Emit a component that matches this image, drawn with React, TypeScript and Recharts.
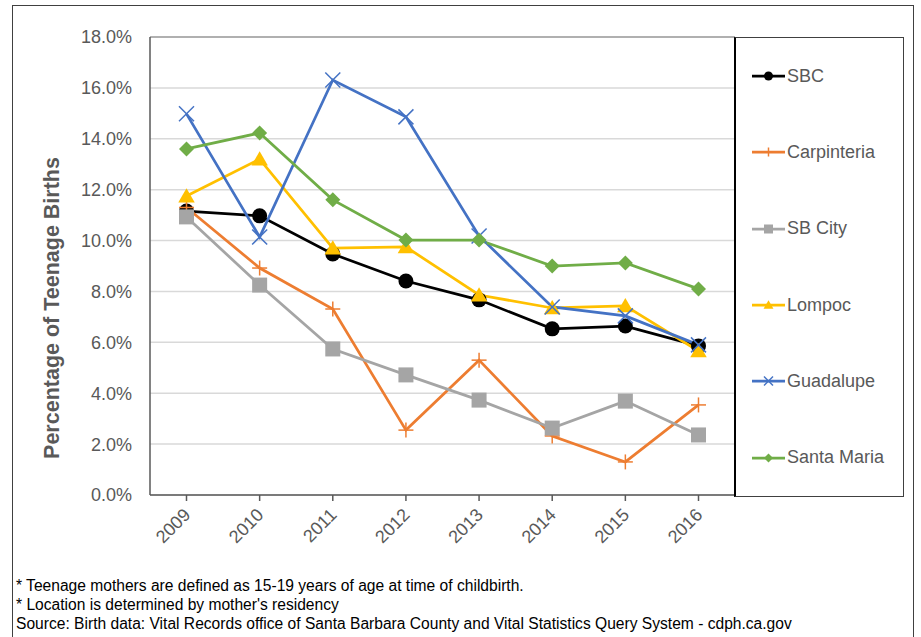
import { LineChart, Line, XAxis, YAxis, CartesianGrid, ReferenceLine } from 'recharts';

const years = ['2009', '2010', '2011', '2012', '2013', '2014', '2015', '2016'];
const sbc = [11.16, 10.97, 9.47, 8.41, 7.67, 6.53, 6.64, 5.86];
const carpinteria = [11.3, 8.92, 7.31, 2.55, 5.3, 2.32, 1.3, 3.54];
const sbCity = [10.93, 8.25, 5.74, 4.72, 3.73, 2.63, 3.69, 2.36];
const lompoc = [11.75, 13.2, 9.7, 9.75, 7.86, 7.35, 7.43, 5.66];
const guadalupe = [14.98, 10.14, 16.31, 14.86, 10.18, 7.39, 7.04, 5.9];
const santaMaria = [13.6, 14.23, 11.6, 10.02, 10.02, 9.0, 9.12, 8.1];
const yTicks = [0, 2, 4, 6, 8, 10, 12, 14, 16, 18];
const footnotes = [
  '* Teenage mothers are defined as 15-19 years of age at time of childbirth.',
  "* Location is determined by mother's residency",
  'Source: Birth data: Vital Records office of Santa Barbara County and Vital Statistics Query System - cdph.ca.gov',
];

type Shape = 'circle' | 'plus' | 'square' | 'triangle' | 'cross' | 'diamond';

const series: { key: string; color: string; shape: Shape; values: number[] }[] = [
  { key: 'SBC', color: '#000000', shape: 'circle', values: sbc },
  { key: 'Carpinteria', color: '#ED7D31', shape: 'plus', values: carpinteria },
  { key: 'SB City', color: '#A5A5A5', shape: 'square', values: sbCity },
  { key: 'Lompoc', color: '#FFC000', shape: 'triangle', values: lompoc },
  { key: 'Guadalupe', color: '#4472C4', shape: 'cross', values: guadalupe },
  { key: 'Santa Maria', color: '#70AD47', shape: 'diamond', values: santaMaria },
];

const data = years.map((year, i) => {
  const row: Record<string, string | number> = { year };
  series.forEach((s) => (row[s.key] = s.values[i]));
  return row;
});

const FONT = '"Liberation Sans", Arial, sans-serif';
const GREY = '#595959';

function Marker({ cx, cy, shape, color, scale = 1 }: { cx: number; cy: number; shape: Shape; color: string; scale?: number }) {
  const s = 7.5 * scale;
  switch (shape) {
    case 'circle':
      return <circle cx={cx} cy={cy} r={s} fill={color} />;
    case 'square':
      return <rect x={cx - s} y={cy - s} width={s * 2} height={s * 2} fill={color} />;
    case 'triangle':
      return <polygon points={`${cx},${cy - s * 1.05} ${cx + s * 1.1},${cy + s * 0.85} ${cx - s * 1.1},${cy + s * 0.85}`} fill={color} />;
    case 'diamond':
      return <polygon points={`${cx},${cy - s} ${cx + s},${cy} ${cx},${cy + s} ${cx - s},${cy}`} fill={color} />;
    case 'plus':
      return (
        <g stroke={color} strokeWidth={1.5}>
          <line x1={cx - s} y1={cy} x2={cx + s} y2={cy} />
          <line x1={cx} y1={cy - s} x2={cx} y2={cy + s} />
        </g>
      );
    case 'cross':
      return (
        <g stroke={color} strokeWidth={1.5}>
          <line x1={cx - s} y1={cy - s} x2={cx + s} y2={cy + s} />
          <line x1={cx - s} y1={cy + s} x2={cx + s} y2={cy - s} />
        </g>
      );
  }
}

function XTick(props: any) {
  const { x, y, payload } = props;
  const tx = x + 5;
  const ty = y + 13;
  return (
    <text x={tx} y={ty} textAnchor="end" fill={GREY} fontSize={18} fontFamily={FONT} transform={`rotate(-45, ${tx}, ${ty})`}>
      {payload.value}
    </text>
  );
}

export default function App() {
  return (
    <div style={{ position: 'relative', width: 921, height: 637, background: '#fff', fontFamily: FONT, overflow: 'hidden' }}>
      <style>{'body{margin:0}'}</style>
      <div style={{ position: 'absolute', left: 12, top: 5, width: 902, height: 660, border: '1.5px solid #404040', boxSizing: 'border-box' }} />
      <div style={{ position: 'absolute', left: 0, top: 0 }}>
        <LineChart width={921} height={637} data={data} margin={{ top: 37, right: 186, bottom: 82, left: 0 }}>
          <CartesianGrid vertical={false} stroke="#d9d9d9" strokeWidth={1.5} />
          <XAxis
            dataKey="year"
            height={60}
            padding={{ left: 36.5, right: 36.5 }}
            axisLine={{ stroke: GREY, strokeWidth: 1.5 }}
            tickLine={{ stroke: GREY, strokeWidth: 1.5 }}
            tickSize={6}
            tickMargin={2}
            tick={<XTick />}
            interval={0}
          />
          <YAxis
            width={150}
            domain={[0, 18]}
            ticks={yTicks}
            tickFormatter={(v: number) => `${v.toFixed(1)}%`}
            axisLine={{ stroke: GREY, strokeWidth: 1.5 }}
            tickLine={false}
            tickSize={0}
            tickMargin={18}
            tick={{ fill: GREY, fontSize: 18, fontFamily: FONT }}
          />
          <ReferenceLine y={18} stroke="#7f7f7f" strokeWidth={1} />
          {series.map((s) => (
            <Line
              key={s.key}
              dataKey={s.key}
              stroke={s.color}
              strokeWidth={2.75}
              isAnimationActive={false}
              activeDot={false}
              dot={(p: any) => (
                <g key={`${s.key}-${p.index}`}>
                  <Marker cx={p.cx} cy={p.cy} shape={s.shape} color={s.color} />
                </g>
              )}
            />
          ))}
        </LineChart>
      </div>
      <div
        style={{
          position: 'absolute',
          left: 52,
          top: 308,
          transform: 'translate(-50%, -50%) rotate(-90deg)',
          whiteSpace: 'nowrap',
          fontSize: 21.5,
          fontWeight: 'bold',
          color: GREY,
        }}
      >
        Percentage of Teenage Births
      </div>
      <div
        style={{
          position: 'absolute',
          left: 734,
          top: 37,
          width: 170,
          height: 460,
          borderTop: '1.5px solid #404040',
          borderRight: '1.5px solid #404040',
          borderBottom: '1.5px solid #404040',
          borderLeft: '2px solid #000',
          boxSizing: 'border-box',
          display: 'flex',
          flexDirection: 'column',
          justifyContent: 'space-around',
        }}
      >
        {series.map((s) => (
          <div key={s.key} style={{ display: 'flex', alignItems: 'center', height: 20 }}>
            <svg width={52} height={20} style={{ flex: 'none' }}>
              <line x1={16} y1={10} x2={49} y2={10} stroke={s.color} strokeWidth={2.75} />
              <Marker cx={32.5} cy={10} shape={s.shape} color={s.color} scale={0.6} />
            </svg>
            <span style={{ fontSize: 18, color: GREY, marginLeft: -1 }}>{s.key}</span>
          </div>
        ))}
      </div>
      <div style={{ position: 'absolute', left: 16, top: 576, fontSize: 15.6, lineHeight: '19px', color: '#000' }}>
        {footnotes.map((f) => (
          <div key={f}>{f}</div>
        ))}
      </div>
    </div>
  );
}
